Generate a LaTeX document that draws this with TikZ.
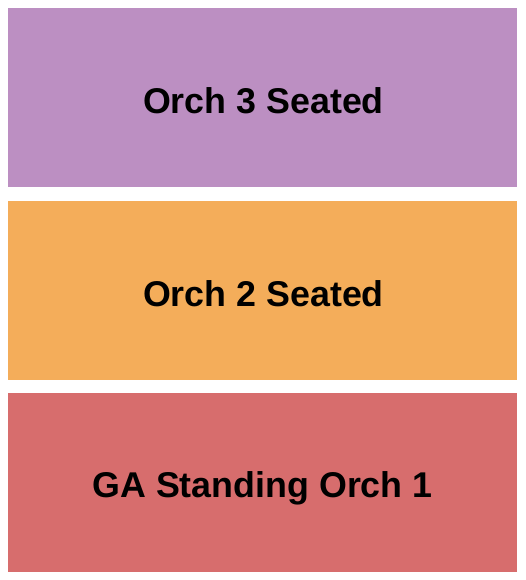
\documentclass[tikz,border=0pt]{standalone}
\usepackage{fontspec}
\setmainfont{Liberation Sans}
\definecolor{orchthree}{RGB}{188,143,194}
\definecolor{orchtwo}{RGB}{244,173,90}
\definecolor{orchone}{RGB}{215,109,109}
\begin{document}
\begin{tikzpicture}[x=1pt,y=-1pt,
  label/.style={anchor=base,inner sep=0pt,font=\fontsize{35.8}{40}\selectfont\bfseries,text=black}]
\useasboundingbox (0,0) rectangle (525,580);
\fill[white] (0,0) rectangle (525,580);
\fill[orchthree] (8,8) rectangle (517,187);
\coordinate (s3) at (263.5,113.3);
\node[label] (t3) at (s3) {Orch 3 Seated};
\fill[orchtwo] (8,201) rectangle (517,380);
\coordinate (s2) at (263.5,306.3);
\node[label] (t2) at (s2) {Orch 2 Seated};
\fill[orchone] (8,393) rectangle (517,572);
\coordinate (s1) at (262.5,497.3);
\node[label] (t1) at (s1) {GA Standing Orch 1};
\end{tikzpicture}
\end{document}
